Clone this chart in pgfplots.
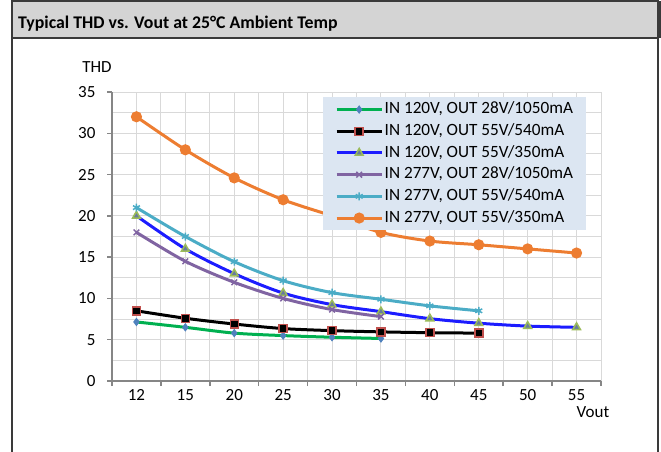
\documentclass[border=0pt]{standalone}
\usepackage{fontspec}
\setmainfont{Carlito}
\usepackage{pgfplots}
\pgfplotsset{compat=1.18}
\definecolor{cgreen}{HTML}{00B050}
\definecolor{cblue}{HTML}{1C1CFF}
\definecolor{cpurple}{HTML}{8064A2}
\definecolor{cteal}{HTML}{4BACC6}
\definecolor{corange}{HTML}{ED7D31}
\definecolor{mblue}{HTML}{4F81BD}
\definecolor{mred}{HTML}{C0504D}
\definecolor{mgreen}{HTML}{9BBB59}
\definecolor{gridgray}{HTML}{D9D9D9}
\definecolor{axisgray}{HTML}{868686}
\definecolor{titlegray}{HTML}{D4D4D4}
\definecolor{framecol}{HTML}{3A3A3A}
\definecolor{legendfill}{HTML}{DCE6F2}
\begin{document}
\begin{tikzpicture}
\path[use as bounding box] (0bp,0bp) rectangle (661bp,-452bp);
\fill[titlegray] (12bp,-1bp) rectangle (658bp,-38bp);
\draw[framecol, line width=2bp] (12bp,-452bp) -- (12bp,-1bp) -- (658bp,-1bp) -- (658bp,-452bp);
\draw[framecol, line width=2.5bp] (659.5bp,-1bp) -- (659.5bp,-38bp);
\draw[framecol, line width=1.5bp] (12bp,-38bp) -- (658bp,-38bp);
\node[anchor=base west, inner sep=0pt, font=\bfseries\fontsize{17.8bp}{20bp}\selectfont] at (18bp,-28bp) {Typical THD vs. Vout at 25\textdegree C Ambient Temp};
\node[font=\fontsize{17bp}{19bp}\selectfont] at (97bp,-67bp) {THD};
\node[font=\fontsize{17bp}{19bp}\selectfont] at (593bp,-412bp) {Vout};
\begin{axis}[
  at={(112bp,-381bp)}, anchor=south west,
  scale only axis, width=489bp, height=289bp,
  xmin=-0.5, xmax=9.5, ymin=0, ymax=35,
  axis x line*=bottom, axis y line*=left,
  axis line style={draw=axisgray, line width=1.5bp},
  ytick={0,5,...,35}, minor y tick num=1,
  xtick={-0.5,0.5,...,9.5}, xticklabels={,,,,,,,,,,},
  minor x tick num=1,
  grid=both,
  major grid style={draw=gridgray, line width=1bp},
  minor grid style={draw=gridgray, line width=1bp},
  tick align=outside, major tick length=5bp, minor tick length=0pt,
  tick style={draw=axisgray, line width=1.5bp},
  extra x ticks={0,1,...,9},
  extra x tick labels={12,15,20,25,30,35,40,45,50,55},
  extra x tick style={grid=none, tick style={draw=none}},
  ticklabel style={font=\fontsize{17bp}{19bp}\selectfont},
  yticklabel style={xshift=-8bp},
  /pgf/number format/assume math mode=true,
  every axis plot/.append style={line width=3bp, smooth, tension=0.5},
  legend style={at={(rel axis cs:0.4315,0.9827)}, anchor=north west,
    fill=legendfill, draw=none, inner xsep=12bp, inner ysep=1.5bp,
    font=\fontsize{17.2bp}{19bp}\selectfont,
    row sep=0pt, column sep=0pt,
    nodes={inner xsep=1.5bp, inner ysep=3.6bp, text height=11.5bp, text depth=3bp}},
  legend cell align=left,
  legend image code/.code={
    \draw[mark repeat=2,mark phase=2] plot coordinates {(0bp,0bp) (22.5bp,0bp) (45bp,0bp)};
  },
]
\addplot[cgreen, mark=diamond*, mark size=3.5bp, mark options={solid, fill=mblue, draw=mblue, line width=1bp}]
  coordinates {(0,7.15)(1,6.5)(2,5.8)(3,5.5)(4,5.3)(5,5.15)};
\addlegendentry{IN 120V, OUT 28V/1050mA}
\addplot[black, mark=square*, mark size=4bp, mark options={solid, fill=black, draw=mred, line width=1.5bp}]
  coordinates {(0,8.5)(1,7.6)(2,6.9)(3,6.35)(4,6.1)(5,5.95)(6,5.85)(7,5.8)};
\addlegendentry{IN 120V, OUT 55V/540mA}
\addplot[cblue, mark=triangle*, mark size=4.5bp, mark options={solid, fill=mgreen!60!cblue, draw=mgreen, line width=1.5bp}]
  coordinates {(0,20)(1,16)(2,13)(3,10.65)(4,9.25)(5,8.4)(6,7.55)(7,7.0)(8,6.65)(9,6.5)};
\addlegendentry{IN 120V, OUT 55V/350mA}
\addplot[cpurple, mark=x, mark size=4bp, mark options={solid, draw=cpurple, line width=1.5bp}]
  coordinates {(0,18)(1,14.5)(2,11.95)(3,10)(4,8.65)(5,7.8)};
\addlegendentry{IN 277V, OUT 28V/1050mA}
\addplot[cteal, mark=asterisk, mark size=4bp, mark options={solid, draw=cteal, line width=1.5bp}]
  coordinates {(0,21)(1,17.5)(2,14.45)(3,12.15)(4,10.7)(5,9.9)(6,9.1)(7,8.5)};
\addlegendentry{IN 277V, OUT 55V/540mA}
\addplot[corange, mark=*, mark size=4bp, mark options={solid, fill=corange, draw=corange}]
  coordinates {(0,32)(1,28)(2,24.6)(3,21.95)(4,20)(5,18)(6,16.95)(7,16.5)(8,16)(9,15.5)};
\addlegendentry{IN 277V, OUT 55V/350mA}
\end{axis}
\end{tikzpicture}
\end{document}
